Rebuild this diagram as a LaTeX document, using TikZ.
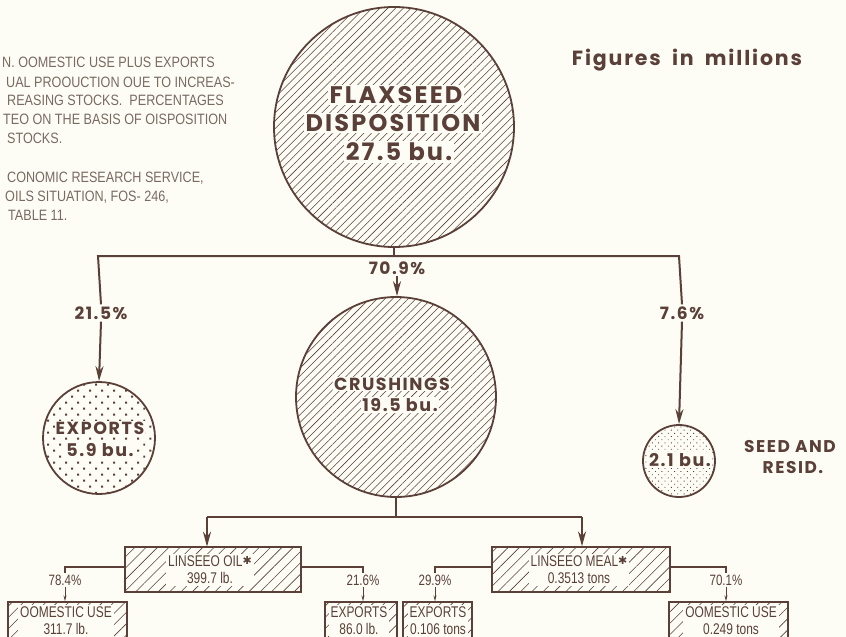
\documentclass[tikz,border=0pt]{standalone}
\usepackage{fontspec}
\setmainfont{Liberation Sans}
\newfontfamily\geo[LetterSpace=9]{Poppins}
\newfontfamily\cond[FakeStretch=0.77]{Liberation Sans}
\newfontfamily\condn[FakeStretch=0.84]{Liberation Sans}
\newfontfamily\sym{DejaVu Sans}
\usetikzlibrary{patterns.meta,arrows.meta}
\definecolor{ink}{HTML}{5A4038}
\definecolor{paper}{HTML}{FDFDF6}
\definecolor{note}{HTML}{7A6A62}
\newcommand{\fs}[1]{\fontsize{#1}{#1}\selectfont}
\newcommand{\starmark}{\raisebox{2pt}{\sym\fs{11}\textcolor{ink}{✱}}}
\tikzset{
  hatchc/.style={circle, draw=ink, line width=1.8pt, inner sep=0pt,
    pattern={Lines[angle=45,distance=5.5pt,line width=0.55pt]}, pattern color=ink},
  dotc/.style={circle, draw=ink, line width=1.8pt, inner sep=0pt,
    pattern={Dots[angle=45,distance=8.5pt,radius=1.4pt]}, pattern color=ink},
  finedotc/.style={circle, draw=ink, line width=1.8pt, inner sep=0pt,
    pattern={Dots[angle=45,distance=4.5pt,radius=0.65pt]}, pattern color=ink},
  hbox/.style={rectangle, draw=ink, line width=1.3pt, inner sep=0pt,
    pattern={Lines[angle=45,distance=8pt,line width=0.6pt]}, pattern color=ink},
  big/.style={text=ink, font=\geo\bfseries\fs{24}, fill=paper, inner sep=1.5pt},
  mid/.style={text=ink, font=\geo\bfseries\fs{17.5}, fill=paper, inner sep=1pt},
  pct/.style={text=ink, font=\geo\bfseries\fs{17}, inner sep=2pt},
  lbl/.style={text=ink, font=\geo\bfseries\fs{17}, inner sep=1pt},
  btxt/.style={text=ink, font=\cond\fontsize{15.5}{17}\selectfont, fill=paper, inner sep=2pt, align=center},
  spct/.style={text=ink, font=\cond\fs{15}, inner sep=1pt},
  notes/.style={text=note, font=\condn\fs{15}, anchor=west, inner sep=0pt},
  conn/.style={draw=ink, line width=2pt},
  arr/.style={draw=ink, line width=2pt, -{Stealth[length=15pt,width=8pt]}},
  sub/.style={draw=ink, line width=1.1pt},
  subarr/.style={draw=ink, line width=1pt, -{Stealth[length=6pt,width=3pt]}}
}
\begin{document}
\begin{tikzpicture}[x=1pt,y=-1pt]
\useasboundingbox (0,0) rectangle (846,637);
\fill[paper] (0,0) rectangle (846,637);
\clip (0,0) rectangle (846,637);

% notes
\node[notes] (n1) at (2,62) {N. OOMESTIC USE PLUS EXPORTS};
\node[notes] (n2) at (6,82) {UAL PROOUCTION OUE TO INCREAS-};
\node[notes] (n3) at (7,100) {REASING STOCKS.\ \ PERCENTAGES};
\node[notes] (n4) at (3,119) {TEO ON THE BASIS OF OISPOSITION};
\node[notes] (n5) at (7,138) {STOCKS.};
\node[notes] (n6) at (7,178) {CONOMIC RESEARCH SERVICE,};
\node[notes] (n7) at (5,197) {OILS SITUATION, FOS- 246,};
\node[notes] (n8) at (8,215) {TABLE 11.};

\node[text=ink, font=\geo\bfseries\fs{20.5}, inner sep=0pt] (fig) at (687,60) {Figures\hspace{5pt} in\hspace{5pt} millions};

% circles
\node[hatchc, minimum size=240pt] (flax) at (394,127) {};
\node[hatchc, minimum size=200pt] (crush) at (396,397) {};
\node[dotc, minimum size=112pt] (exp) at (99,438) {};
\node[finedotc, minimum size=72pt] (seed) at (679,461) {};

\node[big] (t1) at (396,95) {FLAXSEED};
\node[big] (t2) at (393,123) {DISPOSITION};
\node[big] (t3) at (399,152) {27.5 bu.};

\node[mid] (c1) at (392,384) {CRUSHINGS};
\node[mid] (c2) at (400,405) {19.5 bu.};

\node[mid] (e1) at (100,428) {EXPORTS};
\node[mid] (e2) at (100,450) {5.9 bu.};

\node[mid] (s1) at (680,460) {2.1 bu.};

\node[lbl] (r1) at (790,447) {SEED AND};
\node[lbl] (r2) at (793,468) {RESID.};

% top connectors
\coordinate (hL) at (98,256);
\coordinate (hR) at (679,256);
\coordinate (hM) at (394,256);
\node[pct] (p215) at (101,313) {21.5\%};
\node[pct] (p76) at (682,313) {7.6\%};
\node[pct, inner sep=1pt] (p709) at (397,268) {70.9\%};

\draw[conn] (flax.south) -- (hM);
\draw[conn] (p215.north) -- (hL) -- (hR) -- (p76.north);
\draw[arr] (p215.south) -- (exp.north);
\draw[arr] (p76.south) -- (seed.north);
\draw[arr] (p709.south) -- (crush.north -| p709.south);

% crushing outputs
\node[hbox, minimum width=176pt, minimum height=45pt] (oil) at (213,569.5) {};
\node[hbox, minimum width=178pt, minimum height=45pt] (meal) at (581,569.5) {};
\coordinate (cL) at (207,517);
\coordinate (cR) at (582,517);
\coordinate (cM) at (396,517);
\draw[conn] (crush.south) -- (cM);
\draw[conn] (cL) -- (cR);
\draw[arr] (cL) -- (cL |- oil.north);
\draw[arr] (cR) -- (cR |- meal.north);

\node[btxt] (oilt) at (210,570) {LINSEEO OIL\starmark\\399.7 lb.};
\node[btxt] (mealt) at (579,570) {LINSEEO MEAL\starmark\\0.3513 tons};

% bottom boxes
\node[hbox, minimum width=119pt, minimum height=52pt] (dom1) at (67.5,628) {};
\node[hbox, minimum width=72pt, minimum height=52pt] (ex1) at (361,628) {};
\node[hbox, minimum width=69pt, minimum height=52pt] (ex2) at (437.5,628) {};
\node[hbox, minimum width=119pt, minimum height=52pt] (dom2) at (728.5,628) {};

\node[btxt] (d1t) at (66,621) {OOMESTIC USE\\311.7 lb.};
\node[btxt] (x1t) at (359,621) {EXPORTS\\86.0 lb.};
\node[btxt] (x2t) at (438,621) {EXPORTS\\0.106 tons};
\node[btxt] (d2t) at (731,621) {OOMESTIC USE\\0.249 tons};

% small connectors
\node[spct] (p784) at (65,580) {78.4\%};
\node[spct] (p216) at (363,580) {21.6\%};
\node[spct] (p299) at (435,580) {29.9\%};
\node[spct] (p701) at (726,580) {70.1\%};

\draw[sub] ([yshift=2.5pt]oil.west) -| (p784.north);
\draw[sub] ([yshift=2.5pt]oil.east) -| (p216.north);
\draw[sub] ([yshift=2.5pt]meal.west) -| (p299.north);
\draw[sub] ([yshift=2.5pt]meal.east) -| (p701.north);
\draw[subarr] (p784.south) -- (p784.south |- dom1.north);
\draw[subarr] (p216.south) -- (p216.south |- ex1.north);
\draw[subarr] (p299.south) -- (p299.south |- ex2.north);
\draw[subarr] (p701.south) -- (p701.south |- dom2.north);
\end{tikzpicture}
\end{document}
